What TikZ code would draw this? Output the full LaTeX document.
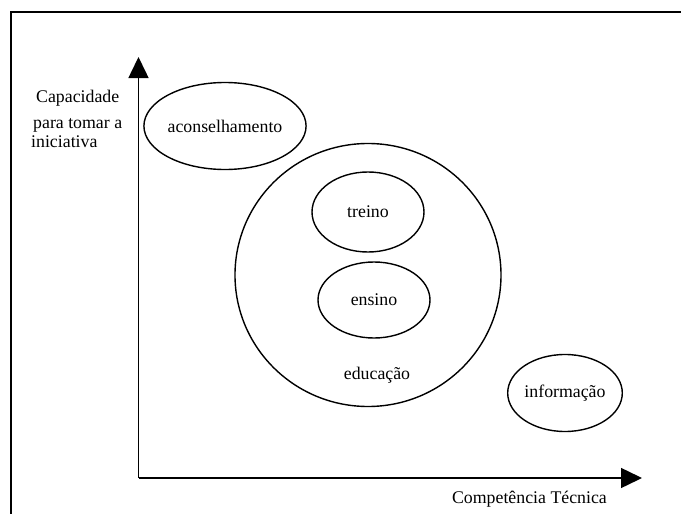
\documentclass[tikz,border=0pt]{standalone}
\usepackage{fontspec}
\setmainfont{Liberation Serif}
\usetikzlibrary{shapes.geometric,arrows.meta}
\tikzset{
  blob/.style={draw, line width=1.4pt, ellipse, inner sep=0pt},
  lbl/.style={inner sep=0pt, font=\fontsize{17.8}{20}\selectfont},
  axis/.style={line width=1.5pt, -{Triangle[length=21pt,width=20pt]}},
  frameline/.style={line width=2.4pt}
}
\begin{document}
\begin{tikzpicture}[x=1pt,y=-1pt]
\useasboundingbox (0,0) rectangle (681,514);
% frame
\draw[frameline] (11,514) -- (11,12) -- (681,12);
% axes
\coordinate (origin) at (138.5,478);
\coordinate (ytip) at (138.5,57);
\coordinate (xtip) at (642,478);
\draw[axis] (origin) -- (ytip);
\draw[axis] (origin) -- (xtip);
% axis labels
\node[lbl, anchor=base west] (cap1) at (36,102) {Capacidade};
\node[lbl, anchor=base west] (cap2) at (33,128) {para tomar a};
\node[lbl, anchor=base west] (cap3) at (31,147) {iniciativa};
\node[lbl, anchor=base east] (comp) at (607,503) {Competência Técnica};
% ellipses
\node[blob, lbl, minimum width=140pt, minimum height=87pt] (acons) at (225,126) {aconselhamento};
\node[blob, minimum width=266pt, minimum height=263pt] (educ) at (368,275) {};
\node[lbl] (educl) at (377,375) {educação};
\node[blob, lbl, minimum width=112pt, minimum height=80pt] (treino) at (368,212) {treino};
\node[blob, lbl, minimum width=112pt, minimum height=76pt] (ensino) at (374,300) {ensino};
\node[blob, lbl, minimum width=102pt, minimum height=77pt] (info) at (565,393) {informação};
\end{tikzpicture}
\end{document}
